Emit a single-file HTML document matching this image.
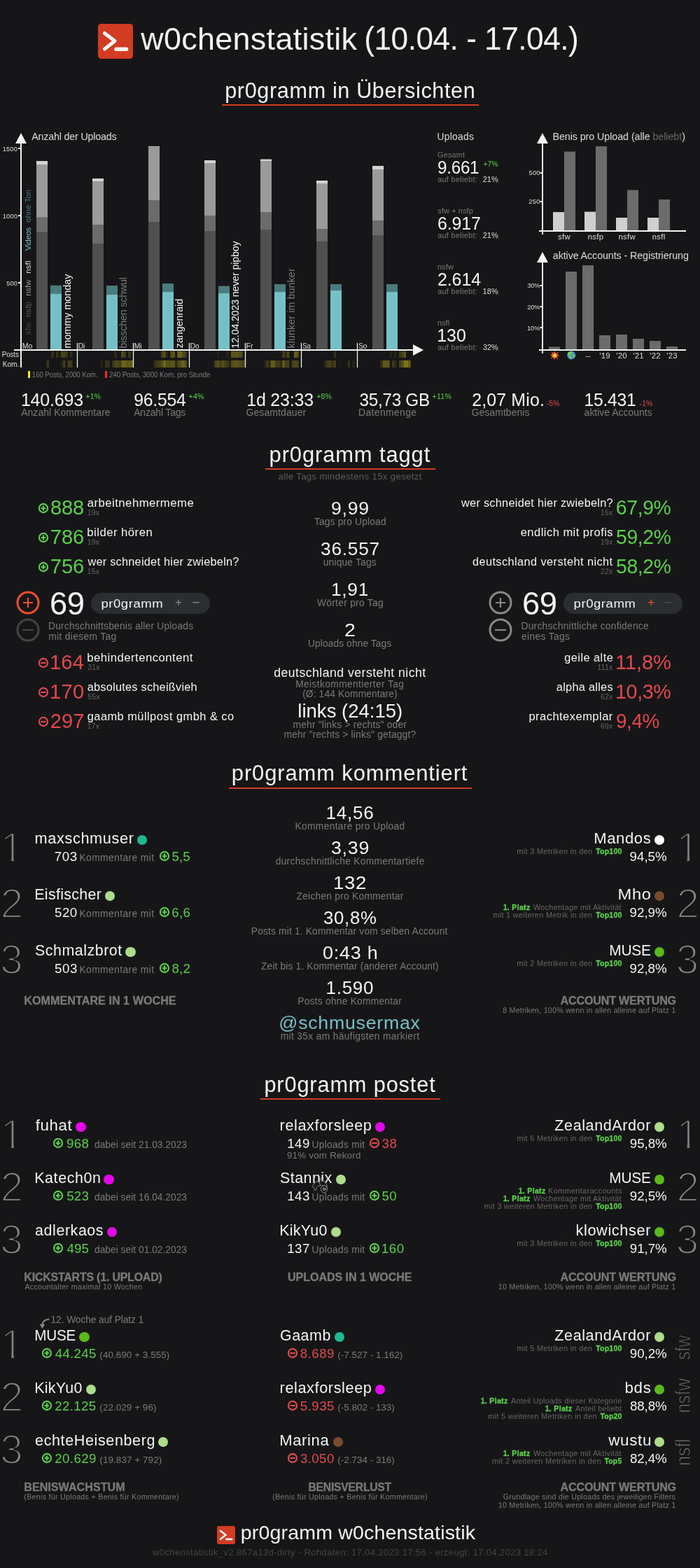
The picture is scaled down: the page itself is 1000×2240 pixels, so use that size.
<!DOCTYPE html>
<html lang="de">
<head>
<meta charset="utf-8">
<title>w0chenstatistik (10.04. - 17.04.)</title>
<style>
*{margin:0;padding:0;box-sizing:border-box}
html,body{background:#161618}
ol,ul{list-style:none}
body{width:1000px;height:2240px;position:relative;overflow:hidden;font-family:"Liberation Sans",sans-serif;color:#f2f5f4}
.t{position:absolute;white-space:nowrap;line-height:0;font-weight:400;font-style:normal;transform-origin:0 100px}
.t::before{content:"";display:inline-block;height:100px}
.b{font-weight:700;-webkit-text-stroke:0.3px}
.lt{-webkit-text-stroke:2.7px #161618}
.lt2{-webkit-text-stroke:1.15px #161618}
.w{color:#f2f5f4}.w2{color:#dcdedd}.g9{color:#999}.g8{color:#888}.g7{color:#7a7a7a}.g6{color:#666}.g5{color:#5c5c5c}.g5b{color:#666}.g4{color:#444}.g4b{color:#4c4e50}
.gr{color:#5bcf4b}.rd{color:#e2494d}.or{color:#ee4d2e}.cy{color:#75c0c7}.cyd{color:#467e80}
.ul{position:absolute;height:2px;background:#d23c22}
.dot{position:absolute;width:14.4px;height:14.4px;border-radius:50%}
.abs{position:absolute}
.pill{position:absolute;height:30.5px;width:170px;border-radius:15.25px;background:#2a2e31}
svg{position:absolute;overflow:visible}
</style>
</head>
<body>
<header>
<svg style="left:140.00px;top:34.00px" width="50" height="50" viewBox="0 0 50 50"><rect width="50" height="50" rx="4.5" fill="#d23c22"/><path d="M9.5 13.5L24 24.5L9.5 36" fill="none" stroke="#f5f7f6" stroke-width="5" stroke-linecap="round" stroke-linejoin="round"/><path d="M26 36.3h14.5" fill="none" stroke="#f5f7f6" stroke-width="5.4" stroke-linecap="round"/></svg>
<h1>
<span class="t w" style="left:201.37px;top:-29px;font-size:44.88px;letter-spacing:0.306px">w0chenstatistik</span>
<span class="t w" style="left:520px;top:-29px;transform:translateX(0.25px) scaleX(0.9677);font-size:45.76px;letter-spacing:-0.549px">(10.04. - 17.04.)</span>
</h1>
</header>
<section id="uebersicht">
<h2 class="t w" style="left:321.23px;top:40px;font-size:30.6px;letter-spacing:0.641px">pr0gramm in Übersichten</h2>
<div class="ul" style="left:317px;top:149px;width:367px"></div>
<svg style="left:0;top:0" width="1000" height="560" viewBox="0 0 1000 560">
<rect x="52" y="230" width="16" height="5.00" fill="#d3d4d2"/>
<rect x="52" y="235" width="16" height="75.80" fill="#9a9c99"/>
<rect x="52" y="310.8" width="16" height="21.50" fill="#6a6c6b"/>
<rect x="52" y="332.3" width="16" height="167.70" fill="#505050"/>
<rect x="132" y="255" width="16" height="4.00" fill="#d3d4d2"/>
<rect x="132" y="259" width="16" height="62.00" fill="#9a9c99"/>
<rect x="132" y="321" width="16" height="27.00" fill="#6a6c6b"/>
<rect x="132" y="348" width="16" height="152.00" fill="#505050"/>
<rect x="212" y="209" width="16" height="1.30" fill="#d3d4d2"/>
<rect x="212" y="210.3" width="16" height="75.70" fill="#9a9c99"/>
<rect x="212" y="286" width="16" height="31.00" fill="#6a6c6b"/>
<rect x="212" y="317" width="16" height="183.00" fill="#505050"/>
<rect x="292" y="229" width="16" height="4.00" fill="#d3d4d2"/>
<rect x="292" y="233" width="16" height="75.00" fill="#9a9c99"/>
<rect x="292" y="308" width="16" height="22.00" fill="#6a6c6b"/>
<rect x="292" y="330" width="16" height="170.00" fill="#505050"/>
<rect x="372" y="227.5" width="16" height="2.50" fill="#d3d4d2"/>
<rect x="372" y="230" width="16" height="73.00" fill="#9a9c99"/>
<rect x="372" y="303" width="16" height="25.00" fill="#6a6c6b"/>
<rect x="372" y="328" width="16" height="172.00" fill="#505050"/>
<rect x="452" y="258" width="16" height="4.00" fill="#d3d4d2"/>
<rect x="452" y="262" width="16" height="65.00" fill="#9a9c99"/>
<rect x="452" y="327" width="16" height="18.50" fill="#6a6c6b"/>
<rect x="452" y="345.5" width="16" height="154.50" fill="#505050"/>
<rect x="532" y="237" width="16" height="5.00" fill="#d3d4d2"/>
<rect x="532" y="242" width="16" height="73.00" fill="#9a9c99"/>
<rect x="532" y="315" width="16" height="21.00" fill="#6a6c6b"/>
<rect x="532" y="336" width="16" height="164.00" fill="#505050"/>
<rect x="72" y="407.7" width="16" height="11.80" fill="#4a7c7d"/>
<rect x="72" y="419.5" width="16" height="80.50" fill="#75c0c7"/>
<rect x="152" y="408" width="16" height="13.00" fill="#4a7c7d"/>
<rect x="152" y="421" width="16" height="79.00" fill="#75c0c7"/>
<rect x="232" y="405" width="16" height="11.75" fill="#4a7c7d"/>
<rect x="232" y="416.75" width="16" height="83.25" fill="#75c0c7"/>
<rect x="312" y="408.5" width="16" height="10.50" fill="#4a7c7d"/>
<rect x="312" y="419" width="16" height="81.00" fill="#75c0c7"/>
<rect x="392" y="406" width="16" height="10.75" fill="#4a7c7d"/>
<rect x="392" y="416.75" width="16" height="83.25" fill="#75c0c7"/>
<rect x="472" y="406" width="16" height="9.00" fill="#4a7c7d"/>
<rect x="472" y="415" width="16" height="85.00" fill="#75c0c7"/>
<rect x="552" y="406" width="16" height="10.75" fill="#4a7c7d"/>
<rect x="552" y="416.75" width="16" height="83.25" fill="#75c0c7"/>
<g fill="#f0dc1e">
<rect x="73.33" y="501.6" width="3.34" height="9.4" opacity="0.144"/>
<rect x="80.00" y="501.6" width="3.34" height="9.4" opacity="0.144"/>
<rect x="86.67" y="501.6" width="3.34" height="9.4" opacity="0.216"/>
<rect x="90.00" y="501.6" width="3.34" height="9.4" opacity="0.216"/>
<rect x="93.33" y="501.6" width="3.34" height="9.4" opacity="0.180"/>
<rect x="100.00" y="501.6" width="3.34" height="9.4" opacity="0.108"/>
<rect x="66.67" y="514.8" width="3.34" height="10.2" opacity="0.180"/>
<rect x="86.67" y="514.8" width="3.34" height="10.2" opacity="0.058"/>
<rect x="90.00" y="514.8" width="3.34" height="10.2" opacity="0.216"/>
<rect x="96.67" y="514.8" width="3.34" height="10.2" opacity="0.216"/>
<rect x="100.00" y="514.8" width="3.34" height="10.2" opacity="0.180"/>
<rect x="163.33" y="501.6" width="3.34" height="9.4" opacity="0.108"/>
<rect x="173.33" y="501.6" width="3.34" height="9.4" opacity="0.288"/>
<rect x="176.67" y="501.6" width="3.34" height="9.4" opacity="0.180"/>
<rect x="183.33" y="501.6" width="3.34" height="9.4" opacity="0.180"/>
<rect x="143.33" y="514.8" width="3.34" height="10.2" opacity="0.072"/>
<rect x="150.00" y="514.8" width="3.34" height="10.2" opacity="0.144"/>
<rect x="153.33" y="514.8" width="3.34" height="10.2" opacity="0.144"/>
<rect x="160.00" y="514.8" width="3.34" height="10.2" opacity="0.144"/>
<rect x="163.33" y="514.8" width="3.34" height="10.2" opacity="0.252"/>
<rect x="166.67" y="514.8" width="3.34" height="10.2" opacity="0.252"/>
<rect x="170.00" y="514.8" width="3.34" height="10.2" opacity="0.180"/>
<rect x="173.33" y="514.8" width="3.34" height="10.2" opacity="0.396"/>
<rect x="176.67" y="514.8" width="3.34" height="10.2" opacity="0.396"/>
<rect x="180.00" y="514.8" width="3.34" height="10.2" opacity="0.324"/>
<rect x="183.33" y="514.8" width="3.34" height="10.2" opacity="0.360"/>
<rect x="186.67" y="514.8" width="3.34" height="10.2" opacity="0.360"/>
<rect x="230.00" y="501.6" width="3.34" height="9.4" opacity="0.216"/>
<rect x="233.33" y="501.6" width="3.34" height="9.4" opacity="0.288"/>
<rect x="236.67" y="501.6" width="3.34" height="9.4" opacity="0.072"/>
<rect x="243.33" y="501.6" width="3.34" height="9.4" opacity="0.288"/>
<rect x="246.67" y="501.6" width="3.34" height="9.4" opacity="0.324"/>
<rect x="253.33" y="501.6" width="3.34" height="9.4" opacity="0.396"/>
<rect x="256.67" y="501.6" width="3.34" height="9.4" opacity="0.396"/>
<rect x="260.00" y="501.6" width="3.34" height="9.4" opacity="0.252"/>
<rect x="263.33" y="501.6" width="3.34" height="9.4" opacity="0.216"/>
<rect x="220.00" y="514.8" width="3.34" height="10.2" opacity="0.144"/>
<rect x="223.33" y="514.8" width="3.34" height="10.2" opacity="0.180"/>
<rect x="226.67" y="514.8" width="3.34" height="10.2" opacity="0.216"/>
<rect x="230.00" y="514.8" width="3.34" height="10.2" opacity="0.288"/>
<rect x="233.33" y="514.8" width="3.34" height="10.2" opacity="0.432"/>
<rect x="236.67" y="514.8" width="3.34" height="10.2" opacity="0.288"/>
<rect x="240.00" y="514.8" width="3.34" height="10.2" opacity="0.288"/>
<rect x="243.33" y="514.8" width="3.34" height="10.2" opacity="0.324"/>
<rect x="246.67" y="514.8" width="3.34" height="10.2" opacity="0.324"/>
<rect x="250.00" y="514.8" width="3.34" height="10.2" opacity="0.108"/>
<rect x="253.33" y="514.8" width="3.34" height="10.2" opacity="0.252"/>
<rect x="256.67" y="514.8" width="3.34" height="10.2" opacity="0.324"/>
<rect x="260.00" y="514.8" width="3.34" height="10.2" opacity="0.396"/>
<rect x="263.33" y="514.8" width="3.34" height="10.2" opacity="0.324"/>
<rect x="310.00" y="501.6" width="3.34" height="9.4" opacity="0.058"/>
<rect x="323.33" y="501.6" width="3.34" height="9.4" opacity="0.086"/>
<rect x="330.00" y="501.6" width="3.34" height="9.4" opacity="0.324"/>
<rect x="333.33" y="501.6" width="3.34" height="9.4" opacity="0.324"/>
<rect x="336.67" y="501.6" width="3.34" height="9.4" opacity="0.324"/>
<rect x="340.00" y="501.6" width="3.34" height="9.4" opacity="0.288"/>
<rect x="343.33" y="501.6" width="3.34" height="9.4" opacity="0.288"/>
<rect x="303.33" y="514.8" width="3.34" height="10.2" opacity="0.036"/>
<rect x="306.67" y="514.8" width="3.34" height="10.2" opacity="0.252"/>
<rect x="310.00" y="514.8" width="3.34" height="10.2" opacity="0.288"/>
<rect x="313.33" y="514.8" width="3.34" height="10.2" opacity="0.216"/>
<rect x="316.67" y="514.8" width="3.34" height="10.2" opacity="0.288"/>
<rect x="320.00" y="514.8" width="3.34" height="10.2" opacity="0.216"/>
<rect x="323.33" y="514.8" width="3.34" height="10.2" opacity="0.180"/>
<rect x="326.67" y="514.8" width="3.34" height="10.2" opacity="0.072"/>
<rect x="330.00" y="514.8" width="3.34" height="10.2" opacity="0.288"/>
<rect x="333.33" y="514.8" width="3.34" height="10.2" opacity="0.324"/>
<rect x="336.67" y="514.8" width="3.34" height="10.2" opacity="0.324"/>
<rect x="340.00" y="514.8" width="3.34" height="10.2" opacity="0.288"/>
<rect x="343.33" y="514.8" width="3.34" height="10.2" opacity="0.288"/>
<rect x="346.67" y="514.8" width="3.34" height="10.2" opacity="0.216"/>
<rect x="403.33" y="501.6" width="3.34" height="9.4" opacity="0.216"/>
<rect x="406.67" y="501.6" width="3.34" height="9.4" opacity="0.108"/>
<rect x="410.00" y="501.6" width="3.34" height="9.4" opacity="0.252"/>
<rect x="420.00" y="501.6" width="3.34" height="9.4" opacity="0.360"/>
<rect x="423.33" y="501.6" width="3.34" height="9.4" opacity="0.324"/>
<rect x="376.67" y="514.8" width="3.34" height="10.2" opacity="0.058"/>
<rect x="380.00" y="514.8" width="3.34" height="10.2" opacity="0.180"/>
<rect x="383.33" y="514.8" width="3.34" height="10.2" opacity="0.108"/>
<rect x="386.67" y="514.8" width="3.34" height="10.2" opacity="0.360"/>
<rect x="390.00" y="514.8" width="3.34" height="10.2" opacity="0.324"/>
<rect x="393.33" y="514.8" width="3.34" height="10.2" opacity="0.180"/>
<rect x="396.67" y="514.8" width="3.34" height="10.2" opacity="0.180"/>
<rect x="400.00" y="514.8" width="3.34" height="10.2" opacity="0.108"/>
<rect x="403.33" y="514.8" width="3.34" height="10.2" opacity="0.360"/>
<rect x="406.67" y="514.8" width="3.34" height="10.2" opacity="0.216"/>
<rect x="410.00" y="514.8" width="3.34" height="10.2" opacity="0.216"/>
<rect x="416.67" y="514.8" width="3.34" height="10.2" opacity="0.216"/>
<rect x="420.00" y="514.8" width="3.34" height="10.2" opacity="0.252"/>
<rect x="423.33" y="514.8" width="3.34" height="10.2" opacity="0.252"/>
<rect x="476.67" y="501.6" width="3.34" height="9.4" opacity="0.144"/>
<rect x="463.33" y="514.8" width="3.34" height="10.2" opacity="0.108"/>
<rect x="466.67" y="514.8" width="3.34" height="10.2" opacity="0.216"/>
<rect x="470.00" y="514.8" width="3.34" height="10.2" opacity="0.216"/>
<rect x="473.33" y="514.8" width="3.34" height="10.2" opacity="0.144"/>
<rect x="476.67" y="514.8" width="3.34" height="10.2" opacity="0.216"/>
<rect x="483.33" y="514.8" width="3.34" height="10.2" opacity="0.029"/>
<rect x="496.67" y="514.8" width="3.34" height="10.2" opacity="0.144"/>
<rect x="503.33" y="514.8" width="3.34" height="10.2" opacity="0.086"/>
<rect x="556.67" y="501.6" width="3.34" height="9.4" opacity="0.072"/>
<rect x="563.33" y="501.6" width="3.34" height="9.4" opacity="0.072"/>
<rect x="570.00" y="501.6" width="3.34" height="9.4" opacity="0.180"/>
<rect x="573.33" y="501.6" width="3.34" height="9.4" opacity="0.216"/>
<rect x="576.67" y="501.6" width="3.34" height="9.4" opacity="0.324"/>
<rect x="543.33" y="514.8" width="3.34" height="10.2" opacity="0.144"/>
<rect x="546.67" y="514.8" width="3.34" height="10.2" opacity="0.324"/>
<rect x="550.00" y="514.8" width="3.34" height="10.2" opacity="0.324"/>
<rect x="553.33" y="514.8" width="3.34" height="10.2" opacity="0.324"/>
<rect x="560.00" y="514.8" width="3.34" height="10.2" opacity="0.180"/>
<rect x="563.33" y="514.8" width="3.34" height="10.2" opacity="0.108"/>
<rect x="570.00" y="514.8" width="3.34" height="10.2" opacity="0.216"/>
<rect x="573.33" y="514.8" width="3.34" height="10.2" opacity="0.288"/>
<rect x="576.67" y="514.8" width="3.34" height="10.2" opacity="0.468"/>
<rect x="580.00" y="514.8" width="3.34" height="10.2" opacity="0.468"/>
<rect x="583.33" y="514.8" width="3.34" height="10.2" opacity="0.360"/>
</g>
<g fill="#f2f5f4">
<rect x="29" y="200" width="2" height="325"/>
<path d="M30 190 L38 205 L22 205Z"/>
<rect x="20" y="499" width="572" height="2"/>
<path d="M605 500 L590 492 L590 508Z"/>
<rect x="26" y="211" width="3" height="2"/>
<rect x="26" y="307" width="3" height="2"/>
<rect x="26" y="403" width="3" height="2"/>
<rect x="109.85" y="490" width="1.3" height="35"/>
<rect x="189.85" y="490" width="1.3" height="35"/>
<rect x="269.85" y="490" width="1.3" height="35"/>
<rect x="349.85" y="490" width="1.3" height="35"/>
<rect x="429.85" y="490" width="1.3" height="35"/>
<rect x="509.85" y="490" width="1.3" height="35"/>
</g>
<rect x="40" y="530" width="3" height="10" fill="#ffe81e"/>
<rect x="150" y="530" width="3" height="10" fill="#ff2a20"/>
<g fill="#f2f5f4">
<rect x="774" y="200" width="2" height="135"/><path d="M775 190 L783 205 L767 205Z"/><rect x="770" y="329" width="210" height="2"/>
<rect x="771.5" y="246" width="3" height="2"/><rect x="771.5" y="287" width="3" height="2"/>
<rect x="774" y="370" width="2" height="135"/><path d="M775 360 L783 375 L767 375Z"/><rect x="770" y="499" width="210" height="2"/>
<rect x="771.5" y="407" width="3" height="2"/>
<rect x="771.5" y="437" width="3" height="2"/>
<rect x="771.5" y="467" width="3" height="2"/>
</g>
<rect x="790" y="303" width="16" height="26" fill="#cfd0ce"/>
<rect x="806" y="216.5" width="16" height="112.5" fill="#6a6c6b"/>
<rect x="835" y="302.5" width="16" height="26.5" fill="#cfd0ce"/>
<rect x="851" y="209" width="16" height="120" fill="#6a6c6b"/>
<rect x="880" y="311" width="16" height="18" fill="#cfd0ce"/>
<rect x="896" y="271.5" width="16" height="57.5" fill="#6a6c6b"/>
<rect x="925" y="311" width="16" height="18" fill="#cfd0ce"/>
<rect x="941" y="285" width="16" height="44" fill="#6a6c6b"/>
<rect x="784" y="495.5" width="16" height="3.5" fill="#6a6c6b"/>
<rect x="808" y="388" width="16" height="111" fill="#6a6c6b"/>
<rect x="832" y="379" width="16" height="120" fill="#6a6c6b"/>
<rect x="856" y="479" width="16" height="20" fill="#6a6c6b"/>
<rect x="880" y="478" width="16" height="21" fill="#6a6c6b"/>
<rect x="904" y="484" width="16" height="15" fill="#6a6c6b"/>
<rect x="928" y="487" width="16" height="12" fill="#6a6c6b"/>
<rect x="952" y="495" width="16" height="4" fill="#6a6c6b"/>
<g transform="translate(792.4,507.6) scale(1.12)"><path d="M0 -5.8L1.6 -2.4L5.2 -4.6L3.2 -1L6 0.4L2.9 1.6L4.4 5.2L1 3.1L-0.6 6L-1.7 2.7L-5.4 4.4L-3.1 1L-6 -0.6L-2.9 -1.9L-4.4 -5L-1.2 -2.7Z" fill="#f0481c"/><path d="M0 -3.6L1.1 -1.3L3.5 -2L2 0.2L3.6 1.8L1.2 1.8L0.2 3.8L-0.9 1.9L-3.3 2.1L-1.9 0.2L-3.3 -1.9L-0.9 -1.4Z" fill="#ffb02c"/><path d="M0 -1.8L0.7 -0.6L1.8 -0.4L0.9 0.5L1 1.700L0 1.100L-1.100 1.700L-0.900 0.500L-1.800 -0.400L-0.700 -0.600Z" fill="#fff3a0"/></g>
<g transform="translate(816.2,507.4)"><circle r="6" fill="#3f8fe6"/><path d="M-3 -5C-0.800 -6 1.800 -5 1.400 -3C0.800 -1.400 -1.400 -1.800 -2 -0.200C-1.400 1.200 0.200 1 0.400 2.600C0.300 4.200 -0.800 5.400 -1.800 5.600C-3.200 4 -2.600 2.400 -3.800 1.400C-5.200 0.600 -5.600 -1.200 -5.200 -2.600C-4.600 -3.800 -4 -4.400 -3 -5Z M2.400 -1.200C3.800 -2 5.400 -1.200 5.600 0.600C5.200 2.400 4.200 3.800 3 4C2.200 2.800 1.800 0 2.400 -1.200Z" fill="#74c84c"/></g>
</svg>
<figure id="chart-uploads">
<span class="t w2" style="left:45.17px;top:100px;font-size:14.28px;letter-spacing:-0.171px">Anzahl der Uploads</span>
<span class="t w2" style="left:3.79px;top:116px;font-size:9.36px;letter-spacing:0.097px">1500</span>
<span class="t w2" style="left:3.79px;top:212px;font-size:9.36px;letter-spacing:0.097px">1000</span>
<span class="t w2" style="left:9.13px;top:308px;font-size:9.36px;letter-spacing:0.075px">500</span>
<span class="t w2" style="left:31.73px;top:398px;font-size:10.61px;letter-spacing:-0.022px">Mo</span>
<span class="t w2" style="left:111px;top:398px;transform:translateX(0.75px) scaleX(0.9752);font-size:10.61px;letter-spacing:-0.127px">Di</span>
<span class="t w2" style="left:191px;top:398px;transform:translateX(0.75px) scaleX(0.9808);font-size:10.61px;letter-spacing:-0.127px">Mi</span>
<span class="t w2" style="left:271px;top:398px;transform:translateX(0.77px) scaleX(0.9489);font-size:10.61px;letter-spacing:-0.127px">Do</span>
<span class="t w2" style="left:351px;top:398px;transform:translateX(0.75px) scaleX(0.9729);font-size:10.61px;letter-spacing:-0.127px">Fr</span>
<span class="t w2" style="left:432px;top:398px;transform:translateX(0.16px) scaleX(0.9056);font-size:10.61px;letter-spacing:-0.127px">Sa</span>
<span class="t w2" style="left:512px;top:398px;transform:translateX(0.14px) scaleX(0.9562);font-size:10.61px;letter-spacing:-0.127px">So</span>
<span class="t g4" style="left:44px;top:377px;transform:translate(0.00px,0.91px) rotate(-90deg);font-size:11.22px;letter-spacing:0.314px">sfw</span>
<span class="t g5" style="left:44px;top:353px;transform:translate(0.00px,0.05px) rotate(-90deg);font-size:11.22px;letter-spacing:0.314px">nsfp</span>
<span class="t g9" style="left:44px;top:322px;transform:translate(0.00px,0.75px) rotate(-90deg);font-size:11.22px;letter-spacing:-0.017px">nsfw</span>
<span class="t w2" style="left:44px;top:290px;transform:translate(0.00px,0.75px) rotate(-90deg);font-size:11.22px;letter-spacing:0.246px">nsfl</span>
<span class="t cy" style="left:44px;top:258px;transform:translate(0.00px,0.05px) rotate(-90deg);font-size:11.22px;letter-spacing:-0.129px">Videos</span>
<span class="t cyd" style="left:44px;top:217px;transform:translate(0.00px,0.67px) rotate(-90deg);font-size:11.22px;letter-spacing:0.105px">ohne Ton</span>
<span class="t w" style="left:101px;top:397px;transform:translate(0.00px,0.55px) rotate(-90deg);font-size:14.28px;letter-spacing:0.049px">mommy monday</span>
<span class="t g7" style="left:181px;top:397px;transform:translate(0.00px,0.52px) rotate(-90deg);font-size:14.28px;letter-spacing:-0.171px">bisschen schwul</span>
<span class="t w" style="left:261px;top:397px;transform:translate(0.00px,0.18px) rotate(-90deg);font-size:14.28px;letter-spacing:-0.032px">zangenraid</span>
<span class="t w" style="left:341px;top:397px;transform:translate(0.00px,0.69px) rotate(-90deg);font-size:14.28px;letter-spacing:-0.171px">12.04.2023 never pipboy</span>
<span class="t g7" style="left:421px;top:397px;transform:translate(0.00px,0.56px) rotate(-90deg);font-size:14.28px;letter-spacing:0.101px">klunker im bunker</span>
<span class="t w2" style="left:2px;top:410px;transform:translateX(0.79px) scaleX(0.9164);font-size:10.71px;letter-spacing:-0.129px">Posts</span>
<span class="t w2" style="left:3px;top:424px;transform:translateX(0.75px) scaleX(0.9631);font-size:10.71px;letter-spacing:-0.129px">Kom.</span>
<span class="t g7" style="left:45px;top:439px;transform:translateX(0.86px) scaleX(0.9386);font-size:10.4px;letter-spacing:-0.125px">160 Posts, 2000 Kom.</span>
<span class="t g7" style="left:155px;top:439px;transform:translateX(0.90px) scaleX(0.9685);font-size:10.2px;letter-spacing:-0.122px">240 Posts, 3000 Kom. pro Stunde</span>
</figure>
<div class="grp" id="uploads-stats">
<span class="t w2" style="left:624.54px;top:100px;font-size:13.77px;letter-spacing:0.292px">Uploads</span>
<span class="t g7" style="left:625.06px;top:125px;font-size:10.71px;letter-spacing:0.295px">Gesamt</span>
<span class="t w" style="left:625px;top:148px;transform:translateX(0.06px) scaleX(0.9718);font-size:24.96px;letter-spacing:-0.300px">9.661</span>
<span class="t gr" style="left:690.49px;top:138px;font-size:10.4px">+7%</span>
<span class="t g7" style="left:625px;top:160px;transform:translateX(0.14px) scaleX(1.0179);font-size:10.71px;letter-spacing:0.300px">auf beliebt:</span>
<span class="t w2" style="left:689.75px;top:160px;font-size:10.92px;letter-spacing:0.005px">21%</span>
<span class="t g7" style="left:625.30px;top:205px;font-size:10.71px;letter-spacing:0.212px">sfw + nsfp</span>
<span class="t w" style="left:624.93px;top:228px;font-size:24.96px;letter-spacing:-0.130px">6.917</span>
<span class="t g7" style="left:625px;top:240px;transform:translateX(0.14px) scaleX(1.0179);font-size:10.71px;letter-spacing:0.300px">auf beliebt:</span>
<span class="t w2" style="left:689.75px;top:240px;font-size:10.92px;letter-spacing:0.005px">21%</span>
<span class="t g7" style="left:624.89px;top:285px;font-size:10.71px;letter-spacing:0.284px">nsfw</span>
<span class="t w" style="left:624.94px;top:308px;font-size:24.96px;letter-spacing:-0.064px">2.614</span>
<span class="t g7" style="left:625px;top:320px;transform:translateX(0.14px) scaleX(1.0179);font-size:10.71px;letter-spacing:0.300px">auf beliebt:</span>
<span class="t w2" style="left:689.47px;top:320px;font-size:10.92px;letter-spacing:0.146px">18%</span>
<span class="t g7" style="left:624.89px;top:365px;font-size:10.71px;letter-spacing:0.203px">nsfl</span>
<span class="t w" style="left:624.30px;top:388px;font-size:24.96px;letter-spacing:-0.078px">130</span>
<span class="t g7" style="left:625px;top:400px;transform:translateX(0.14px) scaleX(1.0179);font-size:10.71px;letter-spacing:0.300px">auf beliebt:</span>
<span class="t w2" style="left:689.88px;top:400px;font-size:10.92px;letter-spacing:-0.062px">32%</span>
</div>
<figure id="chart-benis">
<span class="t w2" style="left:789.43px;top:100px;font-size:14.28px;letter-spacing:-0.055px">Benis pro Upload (alle <span class="g6">beliebt</span>)</span>
<span class="t w2" style="left:755.43px;top:150px;font-size:9.36px;letter-spacing:0.262px">500</span>
<span class="t w2" style="left:755px;top:191px;transform:translateX(0.33px) scaleX(1.0080);font-size:9.36px;letter-spacing:0.262px">250</span>
<span class="t w2" style="left:796px;top:242px;transform:translateX(0.91px) scaleX(1.0212);font-size:11.22px;letter-spacing:0.314px">sfw</span>
<span class="t w2" style="left:839px;top:242px;transform:translateX(0.65px) scaleX(1.0123);font-size:11.22px;letter-spacing:0.314px">nsfp</span>
<span class="t w2" style="left:883px;top:242px;transform:translateX(0.40px) scaleX(1.0171);font-size:11.22px;letter-spacing:0.314px">nsfw</span>
<span class="t w2" style="left:931.79px;top:242px;font-size:11.22px;letter-spacing:0.314px">nsfl</span>
</figure>
<figure id="chart-accounts">
<span class="t w2" style="left:789.79px;top:270px;font-size:14.28px;letter-spacing:-0.087px">aktive Accounts - Registrierung</span>
<span class="t w2" style="left:753px;top:311px;transform:translateX(0.25px) scaleX(0.9895);font-size:9.36px;letter-spacing:-0.112px">30%</span>
<span class="t w2" style="left:753px;top:342px;transform:translateX(0.13px) scaleX(0.9959);font-size:9.36px;letter-spacing:-0.112px">20%</span>
<span class="t w2" style="left:752.89px;top:372px;font-size:9.36px;letter-spacing:-0.027px">10%</span>
<span class="t w2" style="left:836.26px;top:412px;font-size:11.22px">--</span>
<span class="t w2" style="left:856.32px;top:412px;font-size:11.44px;letter-spacing:0.207px">'19</span>
<span class="t w2" style="left:880.27px;top:412px;font-size:11.44px;letter-spacing:0.208px">'20</span>
<span class="t w2" style="left:904.33px;top:412px;font-size:11.44px;letter-spacing:0.206px">'21</span>
<span class="t w2" style="left:928.34px;top:412px;font-size:11.44px;letter-spacing:0.206px">'22</span>
<span class="t w2" style="left:952.30px;top:412px;font-size:11.44px;letter-spacing:0.207px">'23</span>
</figure>
<div class="grp" id="totals">
<span class="t w" style="left:29.90px;top:480px;font-size:24.96px;letter-spacing:-0.167px">140.693</span>
<span class="t gr" style="left:122.49px;top:470px;font-size:10.4px;letter-spacing:0.146px">+1%</span>
<span class="t g7" style="left:30.17px;top:494px;font-size:13.97px;letter-spacing:0.056px">Anzahl Kommentare</span>
<span class="t w" style="left:191px;top:480px;transform:translateX(0.34px) scaleX(0.9942);font-size:24.96px;letter-spacing:-0.300px">96.554</span>
<span class="t gr" style="left:269px;top:470px;transform:translateX(0.49px) scaleX(1.0101);font-size:10.4px;letter-spacing:0.291px">+4%</span>
<span class="t g7" style="left:191.17px;top:494px;font-size:13.97px;letter-spacing:-0.168px">Anzahl Tags</span>
<span class="t w" style="left:352.20px;top:480px;font-size:24.96px;letter-spacing:-0.176px">1d 23:33</span>
<span class="t gr" style="left:452.49px;top:470px;font-size:10.4px;letter-spacing:0.046px">+8%</span>
<span class="t g7" style="left:351.50px;top:494px;font-size:13.97px;letter-spacing:0.110px">Gesamtdauer</span>
<span class="t w" style="left:513px;top:480px;transform:translateX(0.58px) scaleX(0.9726);font-size:24.96px;letter-spacing:-0.300px">35,73 GB</span>
<span class="t gr" style="left:617px;top:470px;transform:translateX(0.49px) scaleX(1.0120);font-size:10.4px;letter-spacing:0.291px">+11%</span>
<span class="t g7" style="left:512.05px;top:494px;font-size:13.97px;letter-spacing:0.331px">Datenmenge</span>
<span class="t w" style="left:674.24px;top:480px;font-size:24.96px;letter-spacing:0.124px">2,07 Mio.</span>
<span class="t rd" style="left:780.94px;top:480px;font-size:10.4px;letter-spacing:-0.123px">-5%</span>
<span class="t g7" style="left:673.50px;top:494px;font-size:13.97px;letter-spacing:0.071px">Gesamtbenis</span>
<span class="t w" style="left:834px;top:480px;transform:translateX(0.61px) scaleX(0.9916);font-size:24.96px;letter-spacing:-0.300px">15.431</span>
<span class="t rd" style="left:913.54px;top:480px;font-size:10.4px;letter-spacing:0.177px">-1%</span>
<span class="t g7" style="left:834.61px;top:494px;font-size:13.97px;letter-spacing:0.005px">aktive Accounts</span>
</div>
</section>
<section id="tags">
<h2 class="t w" style="left:384px;top:560px;transform:translateX(0.61px) scaleX(1.0112);font-size:30.6px;letter-spacing:0.857px">pr0gramm taggt</h2>
<div class="ul" style="left:379px;top:669px;width:243px"></div>
<span class="t g5" style="left:397px;top:585px;transform:translateX(0.44px) scaleX(1.0755);font-size:12.24px;letter-spacing:0.343px">alle Tags mindestens 15x gesetzt</span>
<div class="grp" id="tags-benis">
<svg class="gr" style="left:54.00px;top:717.70px" width="16" height="16" viewBox="0 0 16 16"><circle cx="8" cy="8" r="6.1" fill="none" stroke="currentColor" stroke-width="2.1"/><path d="M4.6 8h6.8M8 4.6v6.8" fill="none" stroke="currentColor" stroke-width="2.1"/></svg>
<span class="t gr" style="left:71.93px;top:635px;font-size:29.12px;letter-spacing:-0.118px">888</span>
<span class="t w" style="left:124px;top:624px;transform:translateX(0.69px) scaleX(1.0254);font-size:16.32px;letter-spacing:0.457px">arbeitnehmermeme</span>
<span class="t g5b" style="left:124.81px;top:636px;font-size:10.4px;letter-spacing:0.238px">19x</span>
<svg class="gr" style="left:54.00px;top:759.70px" width="16" height="16" viewBox="0 0 16 16"><circle cx="8" cy="8" r="6.1" fill="none" stroke="currentColor" stroke-width="2.1"/><path d="M4.6 8h6.8M8 4.6v6.8" fill="none" stroke="currentColor" stroke-width="2.1"/></svg>
<span class="t gr" style="left:71.71px;top:677px;font-size:29.12px">786</span>
<span class="t w" style="left:124px;top:666px;transform:translateX(0.32px) scaleX(1.0240);font-size:16.32px;letter-spacing:0.457px">bilder hören</span>
<span class="t g5b" style="left:124.81px;top:678px;font-size:10.4px;letter-spacing:0.238px">19x</span>
<svg class="gr" style="left:54.00px;top:801.70px" width="16" height="16" viewBox="0 0 16 16"><circle cx="8" cy="8" r="6.1" fill="none" stroke="currentColor" stroke-width="2.1"/><path d="M4.6 8h6.8M8 4.6v6.8" fill="none" stroke="currentColor" stroke-width="2.1"/></svg>
<span class="t gr" style="left:71.71px;top:719px;font-size:29.12px">756</span>
<span class="t w" style="left:125.42px;top:708px;font-size:16.32px;letter-spacing:0.242px">wer schneidet hier zwiebeln?</span>
<span class="t g5b" style="left:124.81px;top:720px;font-size:10.4px;letter-spacing:0.238px">15x</span>
<svg class="or" style="left:21.80px;top:843.00px" width="36" height="36" viewBox="0 0 36 36"><circle cx="18" cy="18" r="15" fill="none" stroke="currentColor" stroke-width="3"/><path d="M11 18h14M18 11v14" fill="none" stroke="currentColor" stroke-width="2.2"/></svg>
<svg class="g4" style="left:21.80px;top:882.40px" width="36" height="36" viewBox="0 0 36 36"><circle cx="18" cy="18" r="15" fill="none" stroke="currentColor" stroke-width="3"/><path d="M10 18h16" fill="none" stroke="currentColor" stroke-width="2.2"/></svg>
<span class="t w" style="left:70px;top:778px;transform:translateX(0.99px) scaleX(0.9924);font-size:45.76px;letter-spacing:-0.549px">69</span>
<div class="pill" style="left:130px;top:846.5px"></div>
<span class="t w" style="left:144px;top:768px;transform:translateX(0.50px) scaleX(1.1018);font-size:16.83px;letter-spacing:0.471px">pr0gramm</span>
<span class="t g8" style="left:250.04px;top:766px;font-size:17px">+</span>
<span class="t g8" style="left:274.45px;top:767px;font-size:19px">−</span>
<span class="t g7" style="left:69.07px;top:799px;font-size:13.77px;letter-spacing:0.212px">Durchschnittsbenis aller Uploads</span>
<span class="t g7" style="left:69.29px;top:814px;font-size:13.77px;letter-spacing:0.349px">mit diesem Tag</span>
<svg class="rd" style="left:54.00px;top:938.70px" width="16" height="16" viewBox="0 0 16 16"><circle cx="8" cy="8" r="6.1" fill="none" stroke="currentColor" stroke-width="2.1"/><path d="M4.2 8h7.6" fill="none" stroke="currentColor" stroke-width="2.1"/></svg>
<span class="t rd" style="left:70.98px;top:856px;font-size:29.12px;letter-spacing:0.152px">164</span>
<span class="t w" style="left:124px;top:845px;transform:translateX(0.32px) scaleX(1.0241);font-size:16.32px;letter-spacing:0.457px">behindertencontent</span>
<span class="t g5b" style="left:125.20px;top:857px;font-size:10.4px;letter-spacing:0.244px">31x</span>
<svg class="rd" style="left:54.00px;top:980.70px" width="16" height="16" viewBox="0 0 16 16"><circle cx="8" cy="8" r="6.1" fill="none" stroke="currentColor" stroke-width="2.1"/><path d="M4.2 8h7.6" fill="none" stroke="currentColor" stroke-width="2.1"/></svg>
<span class="t rd" style="left:70.98px;top:898px;font-size:29.12px;letter-spacing:0.294px">170</span>
<span class="t w" style="left:124.71px;top:887px;font-size:16.32px;letter-spacing:0.243px">absolutes scheißvieh</span>
<span class="t g5b" style="left:125.18px;top:899px;font-size:10.4px;letter-spacing:0.243px">55x</span>
<svg class="rd" style="left:54.00px;top:1022.70px" width="16" height="16" viewBox="0 0 16 16"><circle cx="8" cy="8" r="6.1" fill="none" stroke="currentColor" stroke-width="2.1"/><path d="M4.2 8h7.6" fill="none" stroke="currentColor" stroke-width="2.1"/></svg>
<span class="t rd" style="left:71.74px;top:940px;font-size:29.12px;letter-spacing:0.081px">297</span>
<span class="t w" style="left:124px;top:929px;transform:translateX(0.71px) scaleX(1.0058);font-size:16.32px;letter-spacing:0.457px">gaamb müllpost gmbh &amp; co</span>
<span class="t g5b" style="left:124.81px;top:941px;font-size:10.4px;letter-spacing:0.238px">17x</span>
</div>
<div class="grp" id="tags-center">
<span class="t w" style="left:473px;top:635px;transform:translateX(0.00px) scaleX(1.0660);font-size:24.96px;letter-spacing:0.699px">9,99</span>
<span class="t g7" style="left:448.99px;top:650px;font-size:13.77px;letter-spacing:0.168px">Tags pro Upload</span>
<span class="t w" style="left:458px;top:693px;transform:translateX(0.10px) scaleX(1.0540);font-size:24.96px;letter-spacing:0.699px">36.557</span>
<span class="t g7" style="left:461.66px;top:708px;font-size:13.77px;letter-spacing:0.205px">unique Tags</span>
<span class="t w" style="left:473px;top:751px;transform:translateX(0.00px) scaleX(1.0517);font-size:24.96px;letter-spacing:0.699px">1,91</span>
<span class="t g7" style="left:452.94px;top:766px;font-size:13.77px;letter-spacing:0.301px">Wörter pro Tag</span>
<span class="t w" style="left:492px;top:809px;transform:translateX(0.06px) scaleX(1.1436);font-size:24.96px">2</span>
<span class="t g7" style="left:439.94px;top:824px;font-size:13.77px;letter-spacing:0.107px">Uploads ohne Tags</span>
<span class="t w" style="left:391.26px;top:867px;font-size:17.65px;letter-spacing:0.477px">deutschland versteht nicht</span>
<span class="t g7" style="left:422.17px;top:882px;font-size:13.77px;letter-spacing:0.386px">Meistkommentierter Tag</span>
<span class="t g7" style="left:432.15px;top:896px;font-size:13.77px;letter-spacing:0.133px">(Ø: 144 Kommentare)</span>
<span class="t w" style="left:425.34px;top:925px;font-size:27.54px">links (24:15)</span>
<span class="t g7" style="left:418.49px;top:940px;font-size:13.77px;letter-spacing:0.212px">mehr "links &gt; rechts" oder</span>
<span class="t g7" style="left:405.49px;top:954px;font-size:13.77px;letter-spacing:0.191px">mehr "rechts &gt; links" getaggt?</span>
</div>
<div class="grp" id="tags-confidence">
<span class="t w" style="left:659.02px;top:624px;font-size:16.32px;letter-spacing:0.264px">wer schneidet hier zwiebeln?</span>
<span class="t g5b" style="left:857.88px;top:636px;font-size:10.4px;letter-spacing:0.238px">15x</span>
<span class="t gr" style="left:879px;top:635px;transform:translateX(0.76px) scaleX(0.9743);font-size:29.12px;letter-spacing:-0.349px">67,9%</span>
<span class="t w" style="left:743px;top:666px;transform:translateX(0.70px) scaleX(1.0134);font-size:16.32px;letter-spacing:0.457px">endlich mit profis</span>
<span class="t g5b" style="left:857.88px;top:678px;font-size:10.4px;letter-spacing:0.238px">19x</span>
<span class="t gr" style="left:880px;top:677px;transform:translateX(0.07px) scaleX(0.9704);font-size:29.12px;letter-spacing:-0.349px">59,2%</span>
<span class="t w" style="left:674.91px;top:708px;font-size:16.32px;letter-spacing:0.427px">deutschland versteht nicht</span>
<span class="t g5b" style="left:857.88px;top:720px;font-size:10.4px;letter-spacing:0.242px">22x</span>
<span class="t gr" style="left:880px;top:719px;transform:translateX(0.07px) scaleX(0.9704);font-size:29.12px;letter-spacing:-0.349px">58,2%</span>
<svg class="g8" style="left:696.90px;top:843.00px" width="36" height="36" viewBox="0 0 36 36"><circle cx="18" cy="18" r="15" fill="none" stroke="currentColor" stroke-width="3"/><path d="M11 18h14M18 11v14" fill="none" stroke="currentColor" stroke-width="2.2"/></svg>
<svg class="g8" style="left:696.90px;top:882.40px" width="36" height="36" viewBox="0 0 36 36"><circle cx="18" cy="18" r="15" fill="none" stroke="currentColor" stroke-width="3"/><path d="M10 18h16" fill="none" stroke="currentColor" stroke-width="2.2"/></svg>
<span class="t w" style="left:745px;top:778px;transform:translateX(0.99px) scaleX(0.9924);font-size:45.76px;letter-spacing:-0.549px">69</span>
<div class="pill" style="left:805px;top:846.5px"></div>
<span class="t w" style="left:819px;top:768px;transform:translateX(0.60px) scaleX(1.1031);font-size:16.83px;letter-spacing:0.471px">pr0gramm</span>
<span class="t or" style="left:925.24px;top:766px;font-size:17px">+</span>
<span class="t g4b" style="left:949.25px;top:767px;font-size:19px">−</span>
<span class="t g7" style="left:744.47px;top:799px;font-size:13.77px;letter-spacing:0.256px">Durchschnittliche confidence</span>
<span class="t g7" style="left:745.02px;top:814px;font-size:13.77px;letter-spacing:0.360px">eines Tags</span>
<span class="t w" style="left:806.31px;top:845px;font-size:16.32px;letter-spacing:0.457px">geile alte</span>
<span class="t g5b" style="left:853.52px;top:857px;font-size:10.4px;letter-spacing:0.201px">111x</span>
<span class="t rd" style="left:878.98px;top:856px;font-size:29.12px;letter-spacing:-0.130px">11,8%</span>
<span class="t w" style="left:794.81px;top:887px;font-size:16.32px;letter-spacing:0.279px">alpha alles</span>
<span class="t g5b" style="left:857.88px;top:899px;font-size:10.4px;letter-spacing:0.242px">62x</span>
<span class="t rd" style="left:879px;top:898px;transform:translateX(0.02px) scaleX(0.9835);font-size:29.12px;letter-spacing:-0.349px">10,3%</span>
<span class="t w" style="left:755px;top:929px;transform:translateX(0.44px) scaleX(1.0124);font-size:16.32px;letter-spacing:0.457px">prachtexemplar</span>
<span class="t g5b" style="left:857.88px;top:941px;font-size:10.4px;letter-spacing:0.242px">69x</span>
<span class="t rd" style="left:879px;top:940px;transform:translateX(0.89px) scaleX(0.9571);font-size:29.12px;letter-spacing:-0.349px">9,4%</span>
</div>
</section>
<section id="kommentare">
<h2 class="t w" style="left:330px;top:1015px;transform:translateX(0.80px) scaleX(1.0124);font-size:30.6px;letter-spacing:0.857px">pr0gramm kommentiert</h2>
<div class="ul" style="left:327px;top:1125px;width:347px"></div>
<ol class="grp" id="top-kommentare">
<li class="grp">
<span class="t g8 lt" style="left:0.50px;top:1131px;font-size:59px;clip-path:polygon(0 0,100% 0,100% 93.6px,19.3px 93.6px,19.3px 101px,15.6px 101px,15.6px 93.6px,0 93.6px)">1</span>
<span class="t w" style="left:49px;top:1105px;transform:translateX(0.56px) scaleX(1.0150);font-size:21.42px;letter-spacing:0.600px">maxschmuser</span>
<i class="dot" style="left:195.90px;top:1192.80px;background:#1cb992"></i>
<span class="t w" style="left:77px;top:1130px;transform:translateX(0.83px) scaleX(1.0075);font-size:18.72px;letter-spacing:0.524px">703</span>
<span class="t g7" style="left:113px;top:1130px;transform:translateX(0.46px) scaleX(1.0061);font-size:13.77px;letter-spacing:0.386px">Kommentare mit</span>
<svg class="gr" style="left:226.60px;top:1215.40px" width="16" height="16" viewBox="0 0 16 16"><circle cx="8" cy="8" r="6.1" fill="none" stroke="currentColor" stroke-width="2.1"/><path d="M4.6 8h6.8M8 4.6v6.8" fill="none" stroke="currentColor" stroke-width="2.1"/></svg>
<span class="t gr" style="left:245.45px;top:1130px;font-size:18.72px;letter-spacing:0.168px">5,5</span>
</li>
<li class="grp">
<span class="t g8 lt" style="left:0.40px;top:1211px;font-size:59px">2</span>
<span class="t w" style="left:49.24px;top:1185px;font-size:21.42px;letter-spacing:0.314px">Eisfischer</span>
<i class="dot" style="left:149.90px;top:1272.80px;background:#addc8d"></i>
<span class="t w" style="left:78.05px;top:1210px;font-size:18.72px;letter-spacing:0.488px">520</span>
<span class="t g7" style="left:113px;top:1210px;transform:translateX(0.46px) scaleX(1.0061);font-size:13.77px;letter-spacing:0.386px">Kommentare mit</span>
<svg class="gr" style="left:226.60px;top:1295.40px" width="16" height="16" viewBox="0 0 16 16"><circle cx="8" cy="8" r="6.1" fill="none" stroke="currentColor" stroke-width="2.1"/><path d="M4.6 8h6.8M8 4.6v6.8" fill="none" stroke="currentColor" stroke-width="2.1"/></svg>
<span class="t gr" style="left:245.25px;top:1210px;font-size:18.72px;letter-spacing:0.287px">6,6</span>
</li>
<li class="grp">
<span class="t g8 lt" style="left:0.00px;top:1291px;font-size:59px">3</span>
<span class="t w" style="left:50.03px;top:1265px;font-size:21.42px;letter-spacing:0.516px">Schmalzbrot</span>
<i class="dot" style="left:179.40px;top:1352.80px;background:#addc8d"></i>
<span class="t w" style="left:78.05px;top:1290px;font-size:18.72px;letter-spacing:0.524px">503</span>
<span class="t g7" style="left:113px;top:1290px;transform:translateX(0.46px) scaleX(1.0061);font-size:13.77px;letter-spacing:0.386px">Kommentare mit</span>
<svg class="gr" style="left:226.60px;top:1375.40px" width="16" height="16" viewBox="0 0 16 16"><circle cx="8" cy="8" r="6.1" fill="none" stroke="currentColor" stroke-width="2.1"/><path d="M4.6 8h6.8M8 4.6v6.8" fill="none" stroke="currentColor" stroke-width="2.1"/></svg>
<span class="t gr" style="left:245.39px;top:1290px;font-size:18.72px;letter-spacing:0.278px">8,2</span>
</li>
</ol>
<h3 class="t g7 b" style="left:34.32px;top:1335px;font-size:16.12px;letter-spacing:0.051px">KOMMENTARE IN 1 WOCHE</h3>
<div class="grp" id="kommentare-center">
<span class="t w" style="left:465px;top:1070px;transform:translateX(0.51px) scaleX(1.0443);font-size:24.96px;letter-spacing:0.699px">14,56</span>
<span class="t g7" style="left:421.57px;top:1085px;font-size:13.77px;letter-spacing:0.332px">Kommentare pro Upload</span>
<span class="t w" style="left:472px;top:1120px;transform:translateX(0.98px) scaleX(1.0715);font-size:24.96px;letter-spacing:0.699px">3,39</span>
<span class="t g7" style="left:393.72px;top:1135px;font-size:13.77px;letter-spacing:0.293px">durchschnittliche Kommentartiefe</span>
<span class="t w" style="left:475px;top:1170px;transform:translateX(0.90px) scaleX(1.1035);font-size:24.96px;letter-spacing:0.699px">132</span>
<span class="t g7" style="left:423.56px;top:1185px;font-size:13.77px;letter-spacing:0.250px">Zeichen pro Kommentar</span>
<span class="t w" style="left:462px;top:1220px;transform:translateX(0.02px) scaleX(1.0320);font-size:24.96px;letter-spacing:0.699px">30,8%</span>
<span class="t g7" style="left:358.87px;top:1235px;font-size:13.77px;letter-spacing:0.164px">Posts mit 1. Kommentar vom selben Account</span>
<span class="t w" style="left:460px;top:1270px;transform:translateX(0.95px) scaleX(1.0815);font-size:24.96px;letter-spacing:0.699px">0:43 h</span>
<span class="t g7" style="left:373.06px;top:1285px;font-size:13.77px;letter-spacing:0.148px">Zeit bis 1. Kommentar (anderer Account)</span>
<span class="t w" style="left:465px;top:1320px;transform:translateX(0.52px) scaleX(1.0423);font-size:24.96px;letter-spacing:0.699px">1.590</span>
<span class="t g7" style="left:425.37px;top:1335px;font-size:13.77px;letter-spacing:0.237px">Posts ohne Kommentar</span>
<span class="t cy" style="left:398px;top:1370px;transform:translateX(0.30px) scaleX(1.0475);font-size:25.5px;letter-spacing:0.714px">@schmusermax</span>
<span class="t g7" style="left:400.69px;top:1385px;font-size:13.77px;letter-spacing:0.352px">mit 35x am häufigsten markiert</span>
</div>
<ol class="grp" id="wertung-kommentare">
<li class="grp">
<span class="t w" style="left:848px;top:1105px;transform:translateX(0.19px) scaleX(1.0310);font-size:21.42px;letter-spacing:0.600px">Mandos</span>
<i class="dot" style="left:934.60px;top:1192.80px;background:#ffffff"></i>
<span class="t w" style="left:899.62px;top:1130px;font-size:18.72px">94,5%</span>
<b class="t gr b" style="left:851.28px;top:1120px;font-size:10.61px;letter-spacing:0.140px">Top100</b>
<span class="t g6" style="left:738px;top:1120px;transform:translateX(0.27px) scaleX(1.0445);font-size:10.51px;letter-spacing:0.294px">mit 3 Metriken in den</span>
<span class="t g8 lt" style="left:966.00px;top:1131px;font-size:59px;clip-path:polygon(0 0,100% 0,100% 93.6px,19.3px 93.6px,19.3px 101px,15.6px 101px,15.6px 93.6px,0 93.6px)">1</span>
</li>
<li class="grp">
<span class="t w" style="left:882px;top:1185px;transform:translateX(0.55px) scaleX(1.1074);font-size:21.42px;letter-spacing:0.600px">Mho</span>
<i class="dot" style="left:934.60px;top:1272.80px;background:#7a4b2e"></i>
<span class="t w" style="left:899.62px;top:1210px;font-size:18.72px">92,9%</span>
<span class="t g6" style="left:761px;top:1200px;transform:translateX(0.95px) scaleX(1.0328);font-size:10.51px;letter-spacing:0.294px">Wochentage mit Aktivität</span>
<b class="t gr b" style="left:718px;top:1200px;transform:translateX(0.63px) scaleX(1.0187);font-size:10.4px;letter-spacing:0.291px">1. Platz</b>
<b class="t gr b" style="left:851.28px;top:1211px;font-size:10.61px;letter-spacing:0.140px">Top100</b>
<span class="t g6" style="left:704px;top:1211px;transform:translateX(0.27px) scaleX(1.0411);font-size:10.51px;letter-spacing:0.294px">mit 1 weiteren Metrik in den</span>
<span class="t g8 lt" style="left:966.30px;top:1211px;font-size:59px">2</span>
</li>
<li class="grp">
<span class="t w" style="left:870px;top:1265px;transform:translateX(0.29px) scaleX(0.9572);font-size:21.84px;letter-spacing:-0.262px">MUSE</span>
<i class="dot" style="left:934.60px;top:1352.80px;background:#5bb91c"></i>
<span class="t w" style="left:899.62px;top:1290px;font-size:18.72px">92,8%</span>
<b class="t gr b" style="left:851.28px;top:1280px;font-size:10.61px;letter-spacing:0.140px">Top100</b>
<span class="t g6" style="left:738px;top:1280px;transform:translateX(0.27px) scaleX(1.0445);font-size:10.51px;letter-spacing:0.294px">mit 2 Metriken in den</span>
<span class="t g8 lt" style="left:965.60px;top:1291px;font-size:59px">3</span>
</li>
</ol>
<h3 class="t g7 b" style="left:800.60px;top:1335px;font-size:16.12px;letter-spacing:-0.193px">ACCOUNT WERTUNG</h3>
<span class="t g7" style="left:718.13px;top:1347px;font-size:10.71px;letter-spacing:0.220px">8 Metriken, 100% wenn in allen alleine auf Platz 1</span>
</section>
<section id="posts">
<h2 class="t w" style="left:377px;top:1460px;transform:translateX(0.42px) scaleX(1.0044);font-size:30.6px;letter-spacing:0.857px">pr0gramm postet</h2>
<div class="ul" style="left:372px;top:1569px;width:257px"></div>
<ol class="grp" id="kickstarts">
<li>
<span class="t g8 lt" style="left:0.50px;top:1541px;font-size:59px;clip-path:polygon(0 0,100% 0,100% 93.6px,19.3px 93.6px,19.3px 101px,15.6px 101px,15.6px 93.6px,0 93.6px)">1</span>
<span class="t w" style="left:50px;top:1515px;transform:translateX(0.68px) scaleX(1.0414);font-size:21.42px;letter-spacing:0.600px">fuhat</span>
<i class="dot" style="left:108.30px;top:1602.60px;background:#e108e9"></i>
<svg class="gr" style="left:74.60px;top:1625.30px" width="16" height="16" viewBox="0 0 16 16"><circle cx="8" cy="8" r="6.1" fill="none" stroke="currentColor" stroke-width="2.1"/><path d="M4.6 8h6.8M8 4.6v6.8" fill="none" stroke="currentColor" stroke-width="2.1"/></svg>
<span class="t gr" style="left:95.12px;top:1540px;font-size:18.72px;letter-spacing:0.243px">968</span>
<span class="t g7" style="left:135.02px;top:1540px;font-size:13.77px;letter-spacing:0.017px">dabei seit 21.03.2023</span>
</li>
<li>
<span class="t g8 lt" style="left:0.40px;top:1616px;font-size:59px">2</span>
<span class="t w" style="left:49.24px;top:1590px;font-size:21.42px;letter-spacing:0.599px">Katech0n</span>
<i class="dot" style="left:148.20px;top:1677.60px;background:#e108e9"></i>
<svg class="gr" style="left:74.60px;top:1700.30px" width="16" height="16" viewBox="0 0 16 16"><circle cx="8" cy="8" r="6.1" fill="none" stroke="currentColor" stroke-width="2.1"/><path d="M4.6 8h6.8M8 4.6v6.8" fill="none" stroke="currentColor" stroke-width="2.1"/></svg>
<span class="t gr" style="left:95.25px;top:1615px;font-size:18.72px;letter-spacing:0.183px">523</span>
<span class="t g7" style="left:135.02px;top:1615px;font-size:13.77px;letter-spacing:0.017px">dabei seit 16.04.2023</span>
</li>
<li>
<span class="t g8 lt" style="left:0.00px;top:1691px;font-size:59px">3</span>
<span class="t w" style="left:50.09px;top:1665px;font-size:21.42px;letter-spacing:0.583px">adlerkaos</span>
<i class="dot" style="left:152.50px;top:1752.60px;background:#e108e9"></i>
<svg class="gr" style="left:74.60px;top:1775.30px" width="16" height="16" viewBox="0 0 16 16"><circle cx="8" cy="8" r="6.1" fill="none" stroke="currentColor" stroke-width="2.1"/><path d="M4.6 8h6.8M8 4.6v6.8" fill="none" stroke="currentColor" stroke-width="2.1"/></svg>
<span class="t gr" style="left:95.57px;top:1690px;font-size:18.72px;letter-spacing:0.005px">495</span>
<span class="t g7" style="left:135.02px;top:1690px;font-size:13.77px;letter-spacing:0.017px">dabei seit 01.02.2023</span>
</li>
</ol>
<h3 class="t g7 b" style="left:34px;top:1730px;transform:translateX(0.33px) scaleX(0.9888);font-size:16.12px;letter-spacing:-0.193px">KICKSTARTS (1. UPLOAD)</h3>
<span class="t g7" style="left:35.38px;top:1742px;font-size:10.71px;letter-spacing:0.296px">Accountalter maximal 10 Wochen</span>
<ol class="grp" id="uploads-woche">
<li>
<span class="t w" style="left:399px;top:1515px;transform:translateX(0.56px) scaleX(1.0123);font-size:21.42px;letter-spacing:0.600px">relaxforsleep</span>
<i class="dot" style="left:536.00px;top:1602.60px;background:#e108e9"></i>
<span class="t w" style="left:410.17px;top:1540px;font-size:18.72px;letter-spacing:0.504px">149</span>
<span class="t g7" style="left:445.54px;top:1540px;font-size:13.77px;letter-spacing:0.288px">Uploads mit</span>
<svg class="rd" style="left:527.00px;top:1625.30px" width="16" height="16" viewBox="0 0 16 16"><circle cx="8" cy="8" r="6.1" fill="none" stroke="currentColor" stroke-width="2.1"/><path d="M4.2 8h7.6" fill="none" stroke="currentColor" stroke-width="2.1"/></svg>
<span class="t rd" style="left:545.49px;top:1540px;font-size:18.72px;letter-spacing:0.523px">38</span>
<span class="t g7" style="left:409.98px;top:1555px;font-size:13.26px;letter-spacing:0.281px">91% vom Rekord</span>
</li>
<li>
<span class="t w" style="left:400.03px;top:1590px;font-size:21.42px;letter-spacing:0.467px">Stannix</span>
<i class="dot" style="left:480.00px;top:1677.60px;background:#addc8d"></i>
<span class="t w" style="left:410.17px;top:1615px;font-size:18.72px;letter-spacing:0.472px">143</span>
<span class="t g7" style="left:445.54px;top:1615px;font-size:13.77px;letter-spacing:0.288px">Uploads mit</span>
<svg class="gr" style="left:527.00px;top:1700.30px" width="16" height="16" viewBox="0 0 16 16"><circle cx="8" cy="8" r="6.1" fill="none" stroke="currentColor" stroke-width="2.1"/><path d="M4.6 8h6.8M8 4.6v6.8" fill="none" stroke="currentColor" stroke-width="2.1"/></svg>
<span class="t gr" style="left:545.45px;top:1615px;font-size:18.72px;letter-spacing:0.477px">50</span>
</li>
<li>
<span class="t w" style="left:399.24px;top:1665px;font-size:21.42px;letter-spacing:0.290px">KikYu0</span>
<i class="dot" style="left:472.50px;top:1752.60px;background:#addc8d"></i>
<span class="t w" style="left:410.17px;top:1690px;font-size:18.72px;letter-spacing:0.524px">137</span>
<span class="t g7" style="left:445.54px;top:1690px;font-size:13.77px;letter-spacing:0.288px">Uploads mit</span>
<svg class="gr" style="left:527.00px;top:1775.30px" width="16" height="16" viewBox="0 0 16 16"><circle cx="8" cy="8" r="6.1" fill="none" stroke="currentColor" stroke-width="2.1"/><path d="M4.6 8h6.8M8 4.6v6.8" fill="none" stroke="currentColor" stroke-width="2.1"/></svg>
<span class="t gr" style="left:544px;top:1690px;transform:translateX(0.76px) scaleX(1.0068);font-size:18.72px;letter-spacing:0.524px">160</span>
</li>
</ol>
<h3 class="t g7 b" style="left:411.03px;top:1730px;font-size:16.12px;letter-spacing:-0.083px">UPLOADS IN 1 WOCHE</h3>
<ol class="grp" id="wertung-posts">
<li>
<span class="t w" style="left:792px;top:1515px;transform:translateX(0.32px) scaleX(1.0054);font-size:21.42px;letter-spacing:0.600px">ZealandArdor</span>
<i class="dot" style="left:934.70px;top:1602.80px;background:#addc8d"></i>
<span class="t w" style="left:899.82px;top:1540px;font-size:18.72px;letter-spacing:-0.047px">95,8%</span>
<b class="t gr b" style="left:851.28px;top:1530px;font-size:10.61px;letter-spacing:0.140px">Top100</b>
<span class="t g6" style="left:738px;top:1530px;transform:translateX(0.27px) scaleX(1.0445);font-size:10.51px;letter-spacing:0.294px">mit 6 Metriken in den</span>
<span class="t g8 lt" style="left:966.00px;top:1541px;font-size:59px;clip-path:polygon(0 0,100% 0,100% 93.6px,19.3px 93.6px,19.3px 101px,15.6px 101px,15.6px 93.6px,0 93.6px)">1</span>
</li>
<li>
<span class="t w" style="left:870px;top:1590px;transform:translateX(0.29px) scaleX(0.9572);font-size:21.84px;letter-spacing:-0.262px">MUSE</span>
<i class="dot" style="left:934.70px;top:1677.80px;background:#5bb91c"></i>
<span class="t w" style="left:899.82px;top:1615px;font-size:18.72px;letter-spacing:-0.047px">92,5%</span>
<span class="t g6" style="left:783px;top:1605px;transform:translateX(0.10px) scaleX(1.0425);font-size:10.51px;letter-spacing:0.294px">Kommentaraccounts</span>
<b class="t gr b" style="left:740px;top:1605px;transform:translateX(0.63px) scaleX(1.0187);font-size:10.4px;letter-spacing:0.291px">1. Platz</b>
<span class="t g6" style="left:761px;top:1616px;transform:translateX(0.95px) scaleX(1.0328);font-size:10.51px;letter-spacing:0.294px">Wochentage mit Aktivität</span>
<b class="t gr b" style="left:718px;top:1616px;transform:translateX(0.63px) scaleX(1.0187);font-size:10.4px;letter-spacing:0.291px">1. Platz</b>
<b class="t gr b" style="left:851.28px;top:1627px;font-size:10.61px;letter-spacing:0.140px">Top100</b>
<span class="t g6" style="left:691px;top:1627px;transform:translateX(0.57px) scaleX(1.0406);font-size:10.51px;letter-spacing:0.294px">mit 3 weiteren Metriken in den</span>
<span class="t g8 lt" style="left:966.30px;top:1616px;font-size:59px">2</span>
</li>
<li>
<span class="t w" style="left:822px;top:1665px;transform:translateX(0.54px) scaleX(1.0143);font-size:21.42px;letter-spacing:0.600px">klowichser</span>
<i class="dot" style="left:934.70px;top:1752.80px;background:#5bb91c"></i>
<span class="t w" style="left:899.82px;top:1690px;font-size:18.72px;letter-spacing:-0.047px">91,7%</span>
<b class="t gr b" style="left:851.28px;top:1680px;font-size:10.61px;letter-spacing:0.140px">Top100</b>
<span class="t g6" style="left:738px;top:1680px;transform:translateX(0.27px) scaleX(1.0445);font-size:10.51px;letter-spacing:0.294px">mit 3 Metriken in den</span>
<span class="t g8 lt" style="left:965.60px;top:1691px;font-size:59px">3</span>
</li>
</ol>
<h3 class="t g7 b" style="left:800.60px;top:1730px;font-size:16.12px;letter-spacing:-0.193px">ACCOUNT WERTUNG</h3>
<span class="t g7" style="left:711.78px;top:1742px;font-size:10.71px;letter-spacing:0.224px">10 Metriken, 100% wenn in allen alleine auf Platz 1</span>
<svg class="g8" style="left:54px;top:1880px" width="20" height="22"><path d="M16.4 4.6C10.5 5 6.6 8 6.3 13.4" fill="none" stroke="currentColor" stroke-width="2"/><path d="M2.6 11.6L6.2 18L10.2 12Z" fill="currentColor"/></svg>
<span class="t g7" style="left:72.55px;top:1790px;font-size:13.77px;letter-spacing:-0.085px">12. Woche auf Platz 1</span>
<ol class="grp" id="beniswachstum">
<li>
<span class="t g8 lt" style="left:0.50px;top:1841px;font-size:59px;clip-path:polygon(0 0,100% 0,100% 93.6px,19.3px 93.6px,19.3px 101px,15.6px 101px,15.6px 93.6px,0 93.6px)">1</span>
<span class="t w" style="left:49px;top:1815px;transform:translateX(0.30px) scaleX(0.9471);font-size:21.84px;letter-spacing:-0.262px">MUSE</span>
<i class="dot" style="left:113.40px;top:1902.80px;background:#5bb91c"></i>
<svg class="gr" style="left:58.70px;top:1925.20px" width="16" height="16" viewBox="0 0 16 16"><circle cx="8" cy="8" r="6.1" fill="none" stroke="currentColor" stroke-width="2.1"/><path d="M4.6 8h6.8M8 4.6v6.8" fill="none" stroke="currentColor" stroke-width="2.1"/></svg>
<span class="t gr" style="left:78.77px;top:1840px;font-size:18.72px;letter-spacing:0.262px">44.245</span>
<span class="t g7" style="left:142.36px;top:1840px;font-size:13.52px;letter-spacing:0.027px">(40.690 + 3.555)</span>
</li>
<li>
<span class="t g8 lt" style="left:0.40px;top:1916px;font-size:59px">2</span>
<span class="t w" style="left:49.24px;top:1890px;font-size:21.42px;letter-spacing:0.290px">KikYu0</span>
<i class="dot" style="left:122.50px;top:1977.80px;background:#addc8d"></i>
<svg class="gr" style="left:58.70px;top:2000.20px" width="16" height="16" viewBox="0 0 16 16"><circle cx="8" cy="8" r="6.1" fill="none" stroke="currentColor" stroke-width="2.1"/><path d="M4.6 8h6.8M8 4.6v6.8" fill="none" stroke="currentColor" stroke-width="2.1"/></svg>
<span class="t gr" style="left:78.26px;top:1915px;font-size:18.72px;letter-spacing:0.364px">22.125</span>
<span class="t g7" style="left:142.36px;top:1915px;font-size:13.52px;letter-spacing:0.025px">(22.029 + 96)</span>
</li>
<li>
<span class="t g8 lt" style="left:0.00px;top:1991px;font-size:59px">3</span>
<span class="t w" style="left:50px;top:1965px;transform:translateX(0.08px) scaleX(1.0063);font-size:21.42px;letter-spacing:0.600px">echteHeisenberg</span>
<i class="dot" style="left:226.00px;top:2052.80px;background:#addc8d"></i>
<svg class="gr" style="left:58.70px;top:2075.20px" width="16" height="16" viewBox="0 0 16 16"><circle cx="8" cy="8" r="6.1" fill="none" stroke="currentColor" stroke-width="2.1"/><path d="M4.6 8h6.8M8 4.6v6.8" fill="none" stroke="currentColor" stroke-width="2.1"/></svg>
<span class="t gr" style="left:78.26px;top:1990px;font-size:18.72px;letter-spacing:0.385px">20.629</span>
<span class="t g7" style="left:142.36px;top:1990px;font-size:13.52px;letter-spacing:0.045px">(19.837 + 792)</span>
</li>
</ol>
<h3 class="t g7 b" style="left:34.32px;top:2030px;font-size:16.12px;letter-spacing:0.014px">BENISWACHSTUM</h3>
<span class="t g7" style="left:34.34px;top:2042px;font-size:10.71px;letter-spacing:0.269px">(Benis für Uploads + Benis für Kommentare)</span>
<ol class="grp" id="benisverlust">
<li>
<span class="t w" style="left:399.92px;top:1815px;font-size:21.42px;letter-spacing:0.570px">Gaamb</span>
<i class="dot" style="left:477.50px;top:1902.80px;background:#1cb992"></i>
<svg class="rd" style="left:410.00px;top:1925.20px" width="16" height="16" viewBox="0 0 16 16"><circle cx="8" cy="8" r="6.1" fill="none" stroke="currentColor" stroke-width="2.1"/><path d="M4.2 8h7.6" fill="none" stroke="currentColor" stroke-width="2.1"/></svg>
<span class="t rd" style="left:428.79px;top:1840px;font-size:18.72px;letter-spacing:0.474px">8.689</span>
<span class="t g7" style="left:482.36px;top:1840px;font-size:13.52px;letter-spacing:-0.019px">(-7.527 - 1.162)</span>
</li>
<li>
<span class="t w" style="left:399px;top:1890px;transform:translateX(0.56px) scaleX(1.0123);font-size:21.42px;letter-spacing:0.600px">relaxforsleep</span>
<i class="dot" style="left:536.00px;top:1977.80px;background:#e108e9"></i>
<svg class="rd" style="left:410.00px;top:2000.20px" width="16" height="16" viewBox="0 0 16 16"><circle cx="8" cy="8" r="6.1" fill="none" stroke="currentColor" stroke-width="2.1"/><path d="M4.2 8h7.6" fill="none" stroke="currentColor" stroke-width="2.1"/></svg>
<span class="t rd" style="left:428.85px;top:1915px;font-size:18.72px;letter-spacing:0.433px">5.935</span>
<span class="t g7" style="left:482.36px;top:1915px;font-size:13.52px;letter-spacing:-0.031px">(-5.802 - 133)</span>
</li>
<li>
<span class="t w" style="left:399px;top:1965px;transform:translateX(0.19px) scaleX(1.0304);font-size:21.42px;letter-spacing:0.600px">Marina</span>
<i class="dot" style="left:475.70px;top:2052.80px;background:#7a4b2e"></i>
<svg class="rd" style="left:410.00px;top:2075.20px" width="16" height="16" viewBox="0 0 16 16"><circle cx="8" cy="8" r="6.1" fill="none" stroke="currentColor" stroke-width="2.1"/><path d="M4.2 8h7.6" fill="none" stroke="currentColor" stroke-width="2.1"/></svg>
<span class="t rd" style="left:428.89px;top:1990px;font-size:18.72px;letter-spacing:0.410px">3.050</span>
<span class="t g7" style="left:482.36px;top:1990px;font-size:13.52px;letter-spacing:-0.031px">(-2.734 - 316)</span>
</li>
</ol>
<h3 class="t g7 b" style="left:440px;top:2030px;transform:translateX(0.45px) scaleX(0.9708);font-size:16.12px;letter-spacing:-0.193px">BENISVERLUST</h3>
<span class="t g7" style="left:389.34px;top:2042px;font-size:10.71px;letter-spacing:0.269px">(Benis für Uploads + Benis für Kommentare)</span>
<ol class="grp" id="wertung-filter">
<li>
<span class="t w" style="left:792px;top:1815px;transform:translateX(0.32px) scaleX(1.0054);font-size:21.42px;letter-spacing:0.600px">ZealandArdor</span>
<i class="dot" style="left:934.70px;top:1902.80px;background:#addc8d"></i>
<span class="t w" style="left:899.82px;top:1840px;font-size:18.72px;letter-spacing:-0.047px">90,2%</span>
<b class="t gr b" style="left:851.28px;top:1830px;font-size:10.61px;letter-spacing:0.140px">Top100</b>
<span class="t g6" style="left:738px;top:1830px;transform:translateX(0.27px) scaleX(1.0445);font-size:10.51px;letter-spacing:0.294px">mit 5 Metriken in den</span>
<span class="t g7 lt2" style="left:986px;top:1842px;transform:translate(0.40px,0.87px) rotate(-90deg) scaleX(0.8438);font-size:28.6px;letter-spacing:-0.343px">sfw</span>
</li>
<li>
<span class="t w" style="left:892px;top:1890px;transform:translateX(0.56px) scaleX(1.0430);font-size:21.42px;letter-spacing:0.600px">bds</span>
<i class="dot" style="left:934.70px;top:1977.80px;background:#5bb91c"></i>
<span class="t w" style="left:899.89px;top:1915px;font-size:18.72px;letter-spacing:-0.063px">88,8%</span>
<span class="t g6" style="left:729px;top:1905px;transform:translateX(0.98px) scaleX(1.0165);font-size:10.51px;letter-spacing:0.294px">Anteil Uploads dieser Kategorie</span>
<b class="t gr b" style="left:686px;top:1905px;transform:translateX(0.63px) scaleX(1.0187);font-size:10.4px;letter-spacing:0.291px">1. Platz</b>
<span class="t g6" style="left:821px;top:1916px;transform:translateX(0.98px) scaleX(1.0336);font-size:10.51px;letter-spacing:0.294px">Anteil beliebt</span>
<b class="t gr b" style="left:778px;top:1916px;transform:translateX(0.63px) scaleX(1.0187);font-size:10.4px;letter-spacing:0.291px">1. Platz</b>
<b class="t gr b" style="left:857.58px;top:1927px;font-size:10.61px;letter-spacing:0.075px">Top20</b>
<span class="t g6" style="left:697px;top:1927px;transform:translateX(0.07px) scaleX(1.0461);font-size:10.51px;letter-spacing:0.294px">mit 5 weiteren Metriken in den</span>
<span class="t g7 lt2" style="left:986px;top:1918px;transform:translate(0.40px,0.84px) rotate(-90deg) scaleX(0.8653);font-size:28.6px;letter-spacing:-0.343px">nsfw</span>
</li>
<li>
<span class="t w" style="left:869px;top:1965px;transform:translateX(0.23px) scaleX(1.0505);font-size:21.42px;letter-spacing:0.600px">wustu</span>
<i class="dot" style="left:934.70px;top:2052.80px;background:#addc8d"></i>
<span class="t w" style="left:899.89px;top:1990px;font-size:18.72px;letter-spacing:-0.063px">82,4%</span>
<span class="t g6" style="left:761px;top:1980px;transform:translateX(0.95px) scaleX(1.0328);font-size:10.51px;letter-spacing:0.294px">Wochentage mit Aktivität</span>
<b class="t gr b" style="left:718px;top:1980px;transform:translateX(0.63px) scaleX(1.0187);font-size:10.4px;letter-spacing:0.291px">1. Platz</b>
<b class="t gr b" style="left:863.58px;top:1991px;font-size:10.4px;letter-spacing:0.186px">Top5</b>
<span class="t g6" style="left:703px;top:1991px;transform:translateX(0.07px) scaleX(1.0461);font-size:10.51px;letter-spacing:0.294px">mit 2 weiteren Metriken in den</span>
<span class="t g7 lt2" style="left:986px;top:1993px;transform:translate(0.40px,0.88px) rotate(-90deg) scaleX(0.8826);font-size:28.6px;letter-spacing:-0.343px">nsfl</span>
</li>
</ol>
<h3 class="t g7 b" style="left:800.60px;top:2030px;font-size:16.12px;letter-spacing:-0.193px">ACCOUNT WERTUNG</h3>
<span class="t g7" style="left:718.66px;top:2042px;font-size:10.71px;letter-spacing:0.248px">Grundlage sind die Uploads des jeweiligen Filters</span>
<span class="t g7" style="left:711.78px;top:2054px;font-size:10.71px;letter-spacing:0.224px">10 Metriken, 100% wenn in allen alleine auf Platz 1</span>
<svg style="left:0;top:0" width="1000" height="1" viewBox="0 0 1000 1"><g fill="#18181a" stroke="#8e8e8e" stroke-width="0.9" stroke-linejoin="round"><path d="M456.4 1689.5L458.2 1682.6L459.6 1682.8L459.8 1687.4L462.4 1687.2C465 1688.6 466.8 1691.6 467.5 1695.6L463 1694L457.6 1693.6Z"/><path d="M446.3 1694.5L448.5 1691.8L449.9 1689.1L453 1687.8L456.2 1688.7L456.6 1691.4L457.5 1693.6L456.2 1694.5L453.9 1694.5L452.1 1696.3L451.9 1699.9L450.3 1700.8L449 1699.9L448.5 1696.8L446.7 1695.9Z"/><ellipse cx="462.9" cy="1698.8" rx="4.6" ry="5.1"/><path d="M461 1698.2l2.4-1.6M463 1700l3-2.2M461.6 1700.8l1.200-.9" stroke="#d0d0d0" stroke-width="1.1" fill="none"/></g></svg>
</section>
<footer>
<svg style="left:310.00px;top:2180.00px" width="26" height="26" viewBox="0 0 50 50"><rect width="50" height="50" rx="4.5" fill="#d23c22"/><path d="M9.5 13.5L24 24.5L9.5 36" fill="none" stroke="#f5f7f6" stroke-width="5" stroke-linecap="round" stroke-linejoin="round"/><path d="M26 36.3h14.5" fill="none" stroke="#f5f7f6" stroke-width="5.4" stroke-linecap="round"/></svg>
<span class="t w" style="left:343.76px;top:2099px;font-size:28.56px;letter-spacing:0.157px">pr0gramm w0chenstatistik</span>
<span class="t g4" style="left:218.02px;top:2122px;font-size:13.26px;letter-spacing:0.252px">w0chenstatistik_v2 867a13d-dirty - Rohdaten: 17.04.2023 17:56 - erzeugt: 17.04.2023 18:24</span>
</footer>
</body>
</html>
